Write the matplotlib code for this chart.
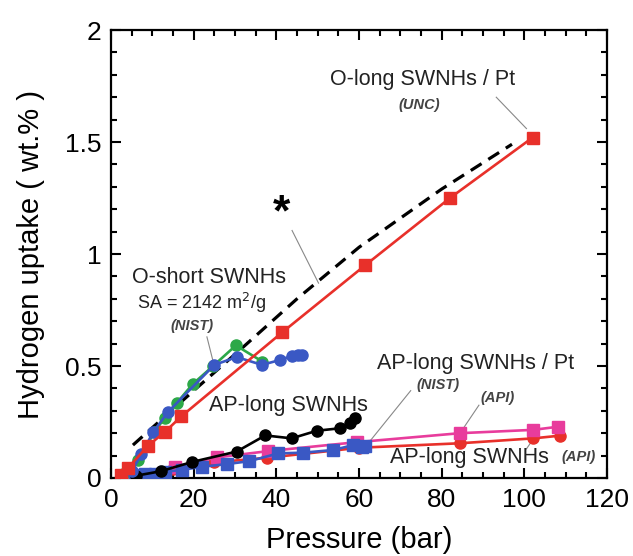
import matplotlib.pyplot as plt
from matplotlib.ticker import MultipleLocator

plt.rcParams['font.family'] = ['Liberation Sans', 'DejaVu Sans']

# O-long SWNHs / Pt (UNC) - red squares
olong_p = [2.5, 4.1, 9.0, 13.0, 17.0, 41.4, 61.5, 82.0, 102.0]
olong_h = [0.013, 0.045, 0.145, 0.205, 0.275, 0.65, 0.95, 1.25, 1.52]

# dashed reference curve (*)
ref_p = [5.3, 20, 32, 45, 60, 80, 97]
ref_h = [0.147, 0.39, 0.585, 0.80, 1.03, 1.29, 1.49]

# O-short SWNHs (NIST) - green circles
oshort_g_p = [3.0, 6.5, 10.6, 13.0, 15.9, 19.8, 24.7, 30.2, 36.6]
oshort_g_h = [0.02, 0.08, 0.207, 0.27, 0.335, 0.42, 0.50, 0.592, 0.52]

# O-short SWNHs - blue circles
oshort_b_p = [5.0, 7.3, 10.2, 13.8, 25.0, 30.4, 36.5, 40.9, 43.7, 45.2, 46.2]
oshort_b_h = [0.03, 0.105, 0.205, 0.295, 0.505, 0.54, 0.505, 0.527, 0.545, 0.548, 0.548]

# AP-long SWNHs - black circles
aplong_p = [6.0, 12.0, 19.7, 30.4, 37.3, 43.7, 49.8, 55.4, 57.8, 59.0]
aplong_h = [0.01, 0.03, 0.072, 0.118, 0.19, 0.177, 0.211, 0.222, 0.244, 0.266]

# AP-long SWNHs / Pt (API) - pink squares
appt_api_p = [5.0, 15.5, 25.6, 38.0, 59.5, 84.4, 102.2, 108.2]
appt_api_h = [0.01, 0.05, 0.092, 0.12, 0.16, 0.20, 0.215, 0.229]

# AP-long SWNHs (API) - red circles
ap_api_p = [5.0, 15.0, 25.0, 37.7, 60.0, 84.4, 102.2, 108.6]
ap_api_h = [0.005, 0.04, 0.07, 0.09, 0.135, 0.155, 0.177, 0.189]

# AP-long SWNHs / Pt (NIST) - blue squares
appt_nist_p = [5.8, 8.2, 10.6, 13.0, 17.1, 21.9, 28.0, 33.4, 40.5, 46.5, 53.8, 58.6, 60.7, 61.5]
appt_nist_h = [0.013, 0.016, 0.02, 0.028, 0.036, 0.05, 0.062, 0.075, 0.11, 0.113, 0.125, 0.147, 0.14, 0.142]

red = '#e8302a'
green = '#2ca848'
blue = '#3a58c4'
pink = '#e83c9c'

fig = plt.figure(figsize=(6.33, 5.56), dpi=100)
ax = fig.add_axes([0.1754, 0.1403, 0.7836, 0.8057])

lw = 1.9
ms = 8
ax.plot(ref_p, ref_h, color='black', lw=2.3, ls=(0, (4, 2.5)), zorder=2)
ax.plot(ap_api_p, ap_api_h, color=red, lw=lw, marker='o', ms=ms, zorder=3)
ax.plot(appt_api_p, appt_api_h, color=pink, lw=lw, marker='s', ms=ms, zorder=3)
ax.plot(appt_nist_p, appt_nist_h, color=blue, lw=lw, marker='s', ms=ms, zorder=4)
ax.plot(aplong_p, aplong_h, color='black', lw=lw, marker='o', ms=ms, zorder=4)
ax.plot(oshort_g_p, oshort_g_h, color=green, lw=lw, marker='o', ms=ms, zorder=3)
ax.plot(oshort_b_p, oshort_b_h, color=blue, lw=lw, marker='o', ms=ms, zorder=4)
ax.plot(olong_p, olong_h, color=red, lw=lw, marker='s', ms=ms, zorder=5)

ax.set_xlim(0, 120)
ax.set_ylim(0, 2)
ax.xaxis.set_major_locator(MultipleLocator(20))
ax.xaxis.set_minor_locator(MultipleLocator(5))
ax.yaxis.set_major_locator(MultipleLocator(0.5))
ax.yaxis.set_minor_locator(MultipleLocator(0.1))
ax.set_yticks([0, 0.5, 1, 1.5, 2])
ax.set_yticklabels(['0', '0.5', '1', '1.5', '2'])
ax.tick_params(which='both', direction='in', top=True, right=True, width=1.5)
ax.tick_params(which='major', length=7, labelsize=19, pad=7)
ax.tick_params(which='minor', length=4)
for s in ax.spines.values():
    s.set_linewidth(1.6)

ax.set_xlabel('Pressure (bar)', fontsize=21, labelpad=10)
ax.set_ylabel('Hydrogen uptake ( wt.% )', fontsize=21, labelpad=14)

gray = '#888888'


def note(x, y, s, size=15.5, style='normal', weight='normal', color='#222222'):
    ax.text(x, y, s, fontsize=size, style=style, weight=weight, color=color,
            ha='center', va='center')


def leader(x0, y0, x1, y1):
    ax.plot([x0, x1], [y0, y1], color=gray, lw=0.8, zorder=1)


note(75.3, 1.78, 'O-long SWNHs / Pt')
note(74.5, 1.665, '(UNC)', 10.5, 'italic', 'bold', '#444444')
leader(93.2, 1.70, 100.5, 1.56)

ax.text(41.3, 1.18, '*', fontsize=32, weight='bold', ha='center', va='center')
leader(43.8, 1.105, 50.2, 0.87)

note(23.7, 0.895, 'O-short SWNHs')
note(22.0, 0.78, 'SA = 2142 m$^2$/g', 13)
note(19.6, 0.68, '(NIST)', 10.5, 'italic', 'bold', '#444444')
leader(23.2, 0.63, 24.7, 0.52)

note(43.0, 0.325, 'AP-long SWNHs')
note(88.3, 0.51, 'AP-long SWNHs / Pt')
note(79.0, 0.415, '(NIST)', 10.5, 'italic', 'bold', '#444444')
leader(72.5, 0.39, 62.0, 0.15)
note(93.5, 0.355, '(API)', 10.5, 'italic', 'bold', '#444444')
leader(89.0, 0.325, 84.8, 0.21)
note(86.6, 0.09, 'AP-long SWNHs')
note(113.0, 0.095, '(API)', 10.5, 'italic', 'bold', '#444444')
leader(100.5, 0.13, 102.0, 0.17)

fig.savefig('out.png', dpi=100)
